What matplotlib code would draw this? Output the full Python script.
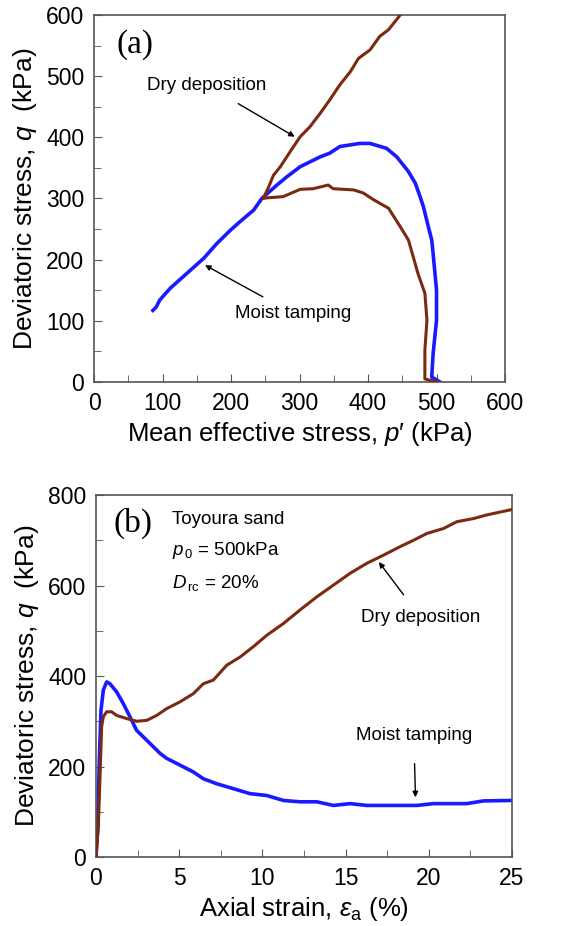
import numpy as np
import matplotlib
matplotlib.use("Agg")
from matplotlib import pyplot as plt
from matplotlib.ticker import MultipleLocator

plt.rcParams['font.family'] = ['Liberation Sans', 'DejaVu Sans']
plt.rcParams['mathtext.fontset'] = 'custom'
plt.rcParams['mathtext.it'] = 'Liberation Sans:italic'
plt.rcParams['mathtext.rm'] = 'Liberation Sans'

# (a) stress paths q-p'
p_dry = [500, 483, 483, 486, 483, 473, 459, 447, 430, 408, 393, 379, 349, 342, 320, 301,
         276, 252, 247, 255, 262, 272, 286, 301, 315, 330, 344, 359, 374, 386, 403, 417,
         430, 447]
q_dry = [0, 5, 52, 101, 145, 177, 232, 254, 284, 298, 309, 314, 316, 322, 316, 315,
         303, 301, 300, 319, 338, 352, 376, 401, 417, 439, 461, 486, 507, 529, 543, 565,
         576, 600]

p_moist = [505, 493, 495, 500, 500, 495, 493, 488, 481, 476, 469, 459, 442, 427, 403, 388,
           359, 344, 330, 301, 281, 267, 245, 233, 213, 199, 179, 160, 135, 111, 96, 91, 86]
q_moist = [0, 8, 46, 101, 150, 210, 232, 254, 286, 303, 325, 344, 368, 382, 390, 390,
           385, 374, 368, 352, 335, 322, 300, 281, 262, 248, 226, 202, 177, 153, 134, 123, 117]

# (b) stress-strain
ea_dry = [0, 0.14, 0.24, 0.34, 0.44, 0.64, 0.94, 1.24, 1.84, 2.44, 3.05, 3.65, 4.25, 5.05,
          5.85, 6.45, 7.05, 7.86, 8.66, 9.46, 10.26, 11.26, 12.26, 13.27, 14.27, 15.27,
          16.27, 17.27, 18.28, 19.08, 19.88, 20.88, 21.68, 22.68, 23.48, 25.0]
qb_dry = [0, 66, 177, 288, 310, 321, 321, 313, 306, 300, 302, 313, 328, 343,
          361, 383, 391, 424, 442, 465, 490, 516, 546, 575, 601, 627,
          649, 667, 686, 700, 715, 726, 741, 748, 756, 768]

ea_moist = [0, 0.1, 0.2, 0.3, 0.44, 0.64, 0.84, 1.24, 1.64, 2.04, 2.44, 3.05, 3.85, 4.25,
            5.05, 5.85, 6.45, 7.25, 8.26, 9.26, 10.26, 11.26, 12.26, 13.27, 14.27, 15.27,
            16.27, 17.27, 19.28, 20.28, 22.28, 23.28, 25.0]
qb_moist = [0, 66, 214, 324, 369, 387, 383, 365, 339, 310, 280, 258, 229, 218,
            203, 188, 173, 162, 151, 140, 136, 125, 122, 122, 114, 118,
            114, 114, 114, 118, 118, 124, 125]

brown = '#7b2a12'
blue = '#1a1aff'
spine = '#555555'

fig = plt.figure(figsize=(5.85, 9.26), dpi=100)
ax1 = fig.add_axes([0.1607, 0.5875, 0.7026, 0.3963])
ax2 = fig.add_axes([0.1641, 0.0745, 0.7111, 0.3909])

for ax in (ax1, ax2):
    for s in ax.spines.values():
        s.set_color(spine)
        s.set_linewidth(1.2)
    ax.tick_params(direction='in', which='both', colors=spine, labelcolor='black',
                   labelsize=16.5, top=False, right=False, pad=7)
    ax.tick_params(which='major', length=6)
    ax.tick_params(which='minor', length=5)

ax1.plot(p_dry, q_dry, color=brown, lw=2.2, zorder=3)
ax1.plot(p_moist, q_moist, color=blue, lw=2.6, zorder=2)
ax1.set_xlim(0, 600)
ax1.set_ylim(0, 600)
ax1.xaxis.set_major_locator(MultipleLocator(100))
ax1.xaxis.set_minor_locator(MultipleLocator(50))
ax1.yaxis.set_major_locator(MultipleLocator(100))
ax1.yaxis.set_minor_locator(MultipleLocator(50))
ax1.set_xlabel("Mean effective stress, $p$\u2032 (kPa)", fontsize=18.5, labelpad=4)
ax1.set_ylabel("Deviatoric stress, $q$  (kPa)", fontsize=19, labelpad=5)
ax1.text(60, 551, "(a)", family='Liberation Serif', fontsize=24, ha='center', va='center')
ax1.annotate("Dry deposition", xy=(293, 401), xytext=(252, 485), fontsize=13.5,
             ha='right', va='center',
             arrowprops=dict(arrowstyle='-|>', color='black', lw=1, shrinkA=10, shrinkB=0,
                             mutation_scale=8))
ax1.annotate("Moist tamping", xy=(162, 191), xytext=(206, 112), fontsize=13.5,
             ha='left', va='center',
             arrowprops=dict(arrowstyle='-|>', color='black', lw=1, shrinkA=8, shrinkB=0,
                             mutation_scale=8))

ax2.plot(ea_dry, qb_dry, color=brown, lw=2.2, zorder=3)
ax2.plot(ea_moist, qb_moist, color=blue, lw=2.6, zorder=2)
ax2.set_xlim(0, 25)
ax2.set_ylim(0, 800)
ax2.xaxis.set_major_locator(MultipleLocator(5))
ax2.xaxis.set_minor_locator(MultipleLocator(2.5))
ax2.yaxis.set_major_locator(MultipleLocator(200))
ax2.yaxis.set_minor_locator(MultipleLocator(100))
ax2.set_xlabel("Axial strain, $\\varepsilon_{\\mathrm{a}}$ (%)", fontsize=18.5, labelpad=4)
ax2.set_ylabel("Deviatoric stress, $q$  (kPa)", fontsize=19, labelpad=5)
ax2.text(2.25, 737, "(b)", family='Liberation Serif', fontsize=24, ha='center', va='center')
ax2.text(4.55, 745, "Toyoura sand", fontsize=13.5, ha='left', va='center')
ax2.text(4.55, 678, "$p_{\\,0}$ = 500kPa", fontsize=13.5, ha='left', va='center')
ax2.text(4.55, 605, "$D_{\\,\\mathrm{rc}}$ = 20%", fontsize=13.5, ha='left', va='center')
ax2.annotate("Dry deposition", xy=(17.0, 652), xytext=(19.5, 530), fontsize=13.5,
             ha='center', va='center',
             arrowprops=dict(arrowstyle='-|>', color='black', lw=1, shrinkA=10, shrinkB=0,
                             mutation_scale=8))
ax2.annotate("Moist tamping", xy=(19.2, 132), xytext=(19.1, 268), fontsize=13.5,
             ha='center', va='center',
             arrowprops=dict(arrowstyle='-|>', color='black', lw=1, shrinkA=12, shrinkB=0,
                             mutation_scale=8))

fig.savefig("out.png", dpi=100)
